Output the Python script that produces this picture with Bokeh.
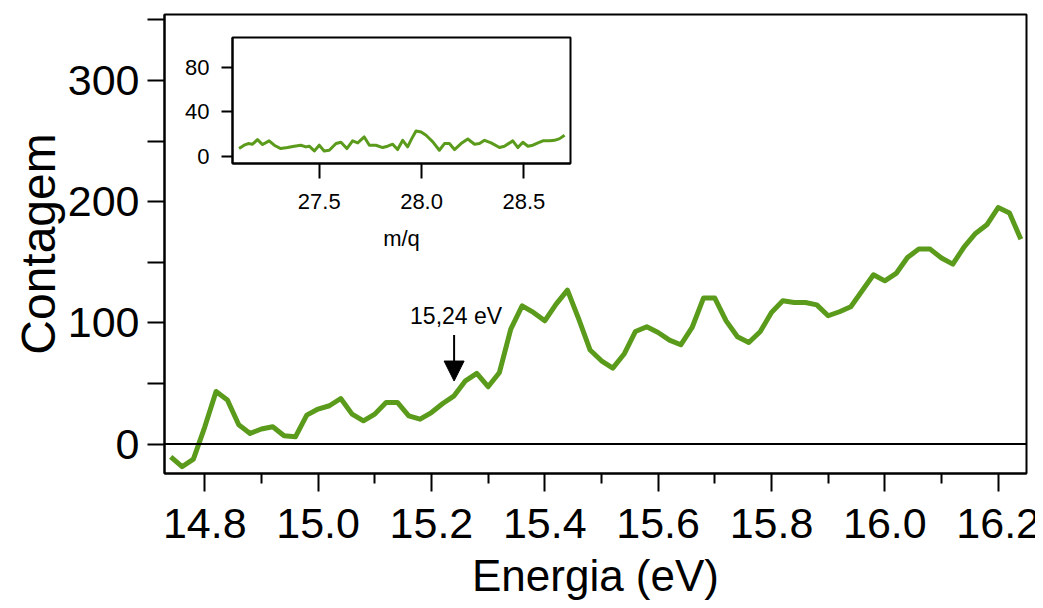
from jinja2 import Template
from bokeh.plotting import figure
from bokeh.models import (Span, Arrow, NormalHead, Label, FixedTicker,
                          PrintfTickFormatter, Range1d)
from bokeh.embed import file_html
from bokeh.resources import INLINE

# ---------------- data ----------------
energy = [14.74, 14.76, 14.78, 14.80, 14.82, 14.84, 14.86, 14.88, 14.90, 14.92,
          14.94, 14.96, 14.98, 15.00, 15.02, 15.04, 15.06, 15.08, 15.10, 15.12,
          15.14, 15.16, 15.18, 15.20, 15.22, 15.24, 15.26, 15.28, 15.30, 15.32,
          15.34, 15.36, 15.38, 15.40, 15.42, 15.44, 15.46, 15.48, 15.50, 15.52,
          15.54, 15.56, 15.58, 15.60, 15.62, 15.64, 15.66, 15.68, 15.70, 15.72,
          15.74, 15.76, 15.78, 15.80, 15.82, 15.84, 15.86, 15.88, 15.90, 15.92,
          15.94, 15.96, 15.98, 16.00, 16.02, 16.04, 16.06, 16.08, 16.10, 16.12,
          16.14, 16.16, 16.18, 16.20, 16.22, 16.24]
counts = [-10.5, -18.7, -12.4, 14.0, 43.4, 36.3, 15.9, 8.8, 12.4, 14.3,
          6.8, 6.0, 23.9, 28.9, 31.6, 37.6, 24.7, 19.2, 24.7, 34.3,
          34.3, 23.3, 20.5, 26.0, 33.5, 39.8, 52.2, 58.3, 47.3, 59.1,
          94.9, 114.1, 108.6, 101.7, 115.5, 127.0, 103.1, 77.6, 68.7, 62.7,
          74.3, 92.9, 96.8, 92.1, 85.8, 81.9, 96.2, 120.5, 120.5, 101.7,
          88.5, 83.8, 92.7, 108.6, 118.2, 116.8, 116.8, 114.9, 105.9, 109.2,
          113.3, 126.5, 139.7, 134.7, 140.8, 154.0, 160.9, 160.9, 153.5, 148.5,
          162.8, 173.8, 180.9, 195.2, 190.6, 169.1]

mq = [27.108, 27.133, 27.153, 27.174, 27.198, 27.223, 27.255, 27.280, 27.312, 27.345,
      27.378, 27.410, 27.435, 27.451, 27.476, 27.500, 27.524, 27.549, 27.582, 27.606,
      27.635, 27.663, 27.688, 27.720, 27.745, 27.777, 27.810, 27.834, 27.859, 27.883,
      27.908, 27.932, 27.952, 27.973, 27.998, 28.022, 28.055, 28.087, 28.112, 28.136,
      28.161, 28.193, 28.226, 28.259, 28.283, 28.308, 28.340, 28.381, 28.405, 28.446,
      28.471, 28.495, 28.520, 28.544, 28.569, 28.593, 28.626, 28.650, 28.675, 28.699]
mq_counts = [6.9, 9.9, 11.4, 10.8, 14.9, 10.5, 13.8, 9.9, 6.9, 7.8,
             9.0, 9.9, 8.4, 9.0, 4.8, 9.9, 4.8, 5.4, 11.4, 12.6,
             6.9, 13.8, 12.0, 17.3, 9.9, 9.9, 7.8, 9.0, 10.8, 6.0,
             14.3, 8.4, 15.8, 22.7, 21.8, 18.8, 12.9, 5.4, 11.4, 11.4,
             6.0, 11.4, 15.5, 10.8, 11.4, 14.3, 12.0, 7.8, 9.0, 13.8,
             7.8, 12.6, 9.0, 9.9, 12.0, 13.8, 13.8, 14.3, 15.8, 18.8]

x_ticks = [14.8, 15.0, 15.2, 15.4, 15.6, 15.8, 16.0, 16.2]
x_minor_ticks = [14.7, 14.9, 15.1, 15.3, 15.5, 15.7, 15.9, 16.1]
y_ticks = [0, 100, 200, 300]
y_minor_ticks = [50, 150, 250, 350]
inset_x_ticks = [27.5, 28.0, 28.5]
inset_y_ticks = [0, 40, 80]

annot_text = "15,24 eV"
annot_x = 15.24
annot_text_y = 106
arrow_y_start = 90
arrow_y_end = 52

GREEN = "#5B9B1C"
FONT = "Liberation Sans"

# ---------------- main figure ----------------
p = figure(name="main", frame_width=862, frame_height=459, output_backend="svg",
           toolbar_location=None,
           x_range=Range1d(14.729, 16.250), y_range=Range1d(-24.3, 354.5),
           min_border_left=155, min_border_top=6, min_border_right=30,
           min_border_bottom=145,
           background_fill_color="white", border_fill_color="white")
p.grid.visible = False
p.outline_line_color = "black"
p.outline_line_width = 2

p.line(energy, counts, line_color=GREEN, line_width=5, line_join="round")

p.add_layout(Span(location=0, dimension="width", line_color="black", line_width=2))

for ax in (p.xaxis[0], p.yaxis[0]):
    ax.axis_line_color = "black"
    ax.axis_line_width = 2
    ax.major_tick_line_width = 2
    ax.minor_tick_line_width = 2
    ax.major_tick_in = 0
    ax.minor_tick_in = 0
    ax.major_label_text_font = FONT
    ax.major_label_text_font_size = "43px"
    ax.major_label_text_color = "black"
    ax.axis_label_text_font = FONT
    ax.axis_label_text_font_style = "normal"
    ax.axis_label_text_color = "black"

p.xaxis.ticker = FixedTicker(ticks=x_ticks, minor_ticks=x_minor_ticks)
p.xaxis.formatter = PrintfTickFormatter(format="%.1f")
p.xaxis.major_tick_out = 18
p.xaxis.minor_tick_out = 10
p.xaxis.major_label_standoff = 17
p.xaxis.axis_label = "Energia (eV)"
p.xaxis.axis_label_text_font_size = "44px"
p.xaxis.axis_label_standoff = 10

p.yaxis.ticker = FixedTicker(ticks=y_ticks, minor_ticks=y_minor_ticks)
p.yaxis.major_tick_out = 17
p.yaxis.minor_tick_out = 17
p.yaxis.major_label_standoff = 8
p.yaxis.axis_label = "Contagem"
p.yaxis.axis_label_text_font_size = "48px"
p.yaxis.axis_label_standoff = 0

p.add_layout(Arrow(end=NormalHead(size=20, fill_color="black", line_color="black"),
                   x_start=annot_x, y_start=arrow_y_start,
                   x_end=annot_x, y_end=arrow_y_end,
                   line_color="black", line_width=2))
p.add_layout(Label(x=annot_x, y=annot_text_y, text=annot_text,
                   text_font=FONT, text_font_size="23px", text_color="black",
                   text_align="center", text_baseline="middle", x_offset=2))

# ---------------- inset ----------------
inset = figure(name="inset", frame_width=338, frame_height=126, output_backend="svg",
               toolbar_location=None,
               x_range=Range1d(27.076, 28.728), y_range=Range1d(-6.5, 106.5),
               min_border_left=55, min_border_top=5, min_border_right=5,
               min_border_bottom=95,
               background_fill_color="white", border_fill_alpha=0)
inset.grid.visible = False
inset.outline_line_color = "black"
inset.outline_line_width = 2
inset.line(mq, mq_counts, line_color=GREEN, line_width=3, line_join="round")

for ax in (inset.xaxis[0], inset.yaxis[0]):
    ax.axis_line_color = "black"
    ax.axis_line_width = 2
    ax.major_tick_line_width = 2
    ax.major_tick_in = 0
    ax.minor_tick_line_color = None
    ax.major_label_text_font = FONT
    ax.major_label_text_font_size = "22px"
    ax.major_label_text_color = "black"
    ax.axis_label_text_font = FONT
    ax.axis_label_text_font_size = "22px"
    ax.axis_label_text_font_style = "normal"
    ax.axis_label_text_color = "black"

inset.xaxis.ticker = FixedTicker(ticks=inset_x_ticks)
inset.xaxis.formatter = PrintfTickFormatter(format="%.1f")
inset.xaxis.major_tick_out = 15
inset.xaxis.major_label_standoff = 15
inset.xaxis.axis_label = "m/q"
inset.xaxis.axis_label_standoff = 14
inset.yaxis.ticker = FixedTicker(ticks=inset_y_ticks)
inset.yaxis.major_tick_out = 11
inset.yaxis.major_label_standoff = 12

page = Template("""{% from macros import embed %}
<!DOCTYPE html>
<html lang="en">
<head>
<meta charset="utf-8">
<title>{{ title }}</title>
{{ bokeh_css }}
{{ bokeh_js }}
<style>
html, body { overflow: hidden; }
body { margin: 8px; }
#wrap { position: relative; width: 1100px; height: 700px; }
#main { position: absolute; left: 0px; top: 0px; width: 1100px; height: 700px; }
#ins { position: absolute; left: 169px; top: 24px; }
</style>
</head>
<body>
<div id="wrap">
<div id="main">{{ embed(roots.main) }}</div>
<div id="ins">{{ embed(roots.inset) }}</div>
</div>
{{ plot_script }}
</body>
</html>
""")

open("out.html", "w").write(file_html([p, inset], INLINE, title="plot", template=page))
